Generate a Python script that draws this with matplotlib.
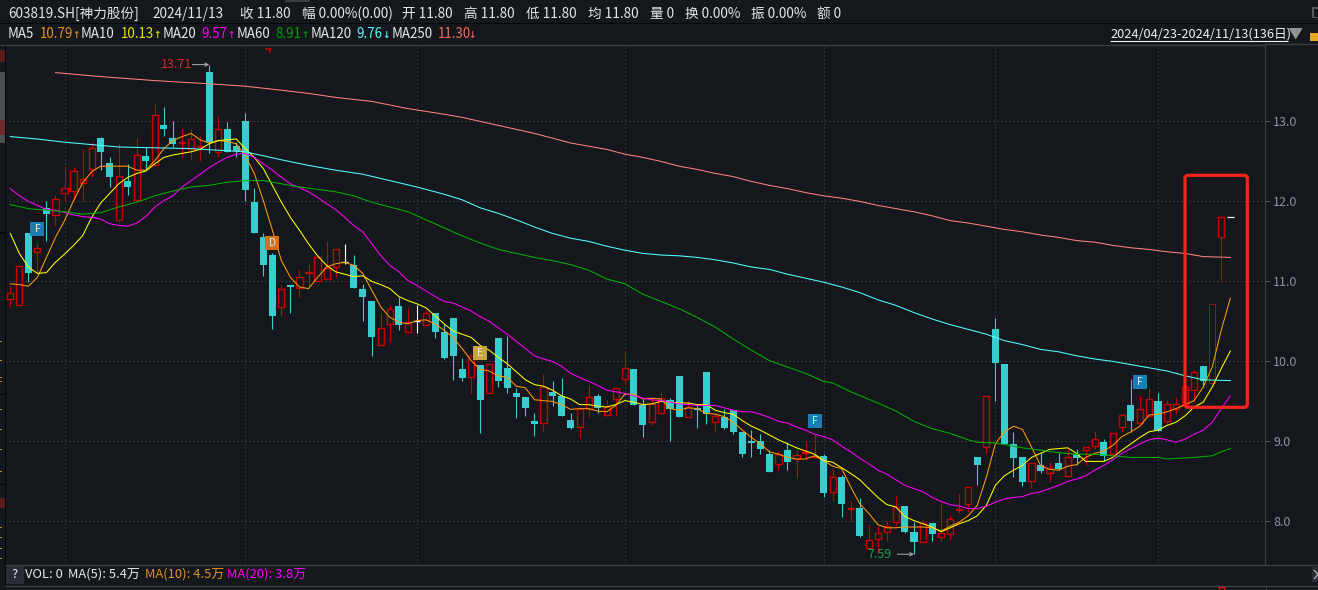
import matplotlib
matplotlib.use('Agg')
import matplotlib.pyplot as plt
from matplotlib.patches import Rectangle, FancyBboxPatch
from matplotlib.lines import Line2D
from matplotlib.transforms import IdentityTransform
import numpy as np

plt.rcParams['font.family'] = ['Noto Sans CJK SC', 'DejaVu Sans']

# candles, one row of values per trading day
opens = [10.78, 10.70, 11.61, 11.37, 11.92, 11.83, 12.11, 12.13, 12.23, 12.40,
         12.79, 12.48, 11.77, 12.25, 12.02, 12.57, 12.45, 12.96, 12.79, 12.73,
         12.66, 12.68, 13.62, 12.62, 12.91, 12.69, 13.01, 11.99, 11.56, 11.33,
         10.68, 10.94, 10.92, 11.11, 11.00, 11.03, 11.18, 11.24, 11.21, 10.91,
         10.76, 10.20, 10.47, 10.69, 10.37, 10.51, 10.45, 10.61, 10.37, 10.54,
         9.90, 9.80, 9.95, 9.60, 10.29, 9.92, 9.60, 9.56, 9.26, 9.23,
         9.62, 9.57, 9.27, 9.18, 9.40, 9.57, 9.33, 9.53, 9.78, 9.90,
         9.46, 9.24, 9.35, 9.52, 9.82, 9.30, 9.42, 9.87, 9.24, 9.30,
         9.39, 9.12, 9.00, 9.00, 8.84, 8.72, 8.89, 8.78, 8.85, 8.80,
         8.82, 8.37, 8.56, 8.16, 8.17, 7.67, 7.78, 7.87, 7.99, 8.19,
         7.87, 7.74, 7.98, 7.80, 7.84, 8.14, 8.22, 8.80, 8.93, 10.41,
         9.97, 8.97, 8.80, 8.50, 8.70, 8.61, 8.73, 8.57, 8.84, 8.89,
         8.94, 8.99, 8.84, 9.18, 9.45, 9.23, 9.32, 9.51, 9.26, 9.40,
         9.46, 9.64, 9.94, 9.73, 11.55, 11.80]
highs = [10.95, 11.19, 11.61, 11.48, 12.01, 12.08, 12.44, 12.43, 12.65, 12.74,
         12.80, 12.55, 12.73, 12.47, 12.79, 12.68, 13.22, 13.18, 13.01, 12.91,
         12.90, 12.82, 13.71, 13.07, 12.99, 12.74, 13.10, 12.17, 11.60, 11.35,
         10.96, 10.95, 11.16, 11.22, 11.31, 11.50, 11.40, 11.47, 11.33, 10.97,
         10.76, 10.61, 10.70, 10.81, 10.67, 10.70, 10.66, 10.61, 10.47, 10.54,
         10.04, 10.10, 9.95, 9.97, 10.29, 10.32, 9.67, 9.56, 9.36, 9.84,
         9.75, 9.79, 9.35, 9.43, 9.70, 9.59, 9.52, 9.67, 10.13, 9.90,
         9.53, 9.54, 9.62, 9.54, 9.82, 9.51, 9.47, 9.87, 9.35, 9.41,
         9.39, 9.12, 9.14, 9.09, 8.89, 8.88, 8.99, 8.89, 8.99, 9.09,
         8.84, 8.66, 8.58, 8.26, 8.29, 7.95, 7.95, 8.00, 8.32, 8.19,
         7.99, 8.02, 7.98, 8.24, 8.08, 8.36, 8.43, 8.80, 9.57, 10.54,
         9.97, 9.12, 8.80, 8.74, 8.85, 8.74, 8.86, 8.89, 8.90, 8.93,
         9.13, 9.03, 9.11, 9.34, 9.78, 9.57, 9.67, 9.60, 9.52, 9.55,
         9.68, 9.89, 9.94, 10.72, 11.80, 11.80]
lows = [10.68, 10.70, 10.99, 11.10, 11.51, 11.69, 12.00, 12.02, 12.01, 12.30,
        12.39, 12.18, 11.76, 12.08, 12.01, 12.39, 12.44, 12.82, 12.68, 12.55,
        12.52, 12.51, 12.60, 12.56, 12.62, 12.55, 12.00, 11.60, 11.07, 10.41,
        10.57, 10.60, 10.81, 10.93, 11.00, 11.03, 11.05, 11.22, 10.92, 10.51,
        10.07, 10.20, 10.25, 10.39, 10.37, 10.35, 10.45, 10.29, 10.03, 9.77,
        9.76, 9.59, 9.10, 9.60, 9.68, 9.60, 9.29, 9.32, 9.07, 9.12,
        9.44, 9.32, 9.15, 9.04, 9.31, 9.35, 9.32, 9.32, 9.70, 9.45,
        9.06, 9.20, 9.35, 9.00, 9.30, 9.30, 9.17, 9.22, 9.12, 9.16,
        9.09, 8.80, 8.80, 8.84, 8.62, 8.64, 8.64, 8.54, 8.78, 8.79,
        8.30, 8.25, 8.06, 8.00, 7.80, 7.67, 7.60, 7.76, 7.95, 7.85,
        7.59, 7.74, 7.75, 7.75, 7.77, 8.11, 8.12, 8.46, 8.85, 9.50,
        8.97, 8.55, 8.44, 8.42, 8.60, 8.49, 8.64, 8.57, 8.70, 8.69,
        8.90, 8.76, 8.82, 9.12, 9.12, 9.20, 9.31, 9.13, 9.20, 9.34,
        9.46, 9.49, 9.68, 9.73, 11.01, 11.80]
closes = [10.85, 11.19, 11.10, 11.42, 11.84, 12.03, 12.17, 12.38, 12.28, 12.67,
          12.62, 12.30, 12.32, 12.18, 12.58, 12.51, 13.08, 12.90, 12.72, 12.74,
          12.78, 12.69, 12.74, 12.90, 12.62, 12.63, 12.14, 11.60, 11.20, 10.57,
          10.91, 10.93, 11.05, 11.12, 11.30, 11.17, 11.40, 11.24, 10.92, 10.80,
          10.30, 10.42, 10.65, 10.45, 10.49, 10.51, 10.60, 10.37, 10.04, 10.07,
          9.79, 10.07, 9.52, 9.97, 9.75, 9.67, 9.56, 9.42, 9.22, 9.68,
          9.57, 9.32, 9.17, 9.41, 9.56, 9.42, 9.43, 9.67, 9.92, 9.46,
          9.20, 9.47, 9.54, 9.40, 9.30, 9.43, 9.39, 9.34, 9.32, 9.17,
          9.12, 8.84, 8.98, 8.90, 8.62, 8.84, 8.74, 8.83, 8.87, 8.82,
          8.36, 8.56, 8.22, 8.17, 7.82, 7.77, 7.86, 7.94, 8.18, 7.87,
          7.74, 7.98, 7.84, 7.85, 8.03, 8.16, 8.43, 8.71, 9.57, 9.98,
          8.97, 8.79, 8.49, 8.73, 8.63, 8.67, 8.65, 8.81, 8.79, 8.93,
          9.03, 8.82, 9.11, 9.33, 9.25, 9.41, 9.53, 9.13, 9.47, 9.47,
          9.68, 9.87, 9.75, 10.72, 11.80, 11.80]

# moving averages
ma5 = [10.97, 10.96, 10.94, 11.05, 11.30, 11.55, 11.76, 12.01, 12.23, 12.37,
       12.44, 12.44, 12.44, 12.44, 12.39, 12.39, 12.51, 12.66, 12.76, 12.81,
       12.85, 12.77, 12.73, 12.76, 12.75, 12.72, 12.57, 12.35, 12.01, 11.64,
       11.26, 11.05, 10.93, 10.91, 11.05, 11.18, 11.22, 11.24, 11.20, 11.10,
       10.89, 10.68, 10.55, 10.49, 10.47, 10.51, 10.52, 10.47, 10.39, 10.30,
       10.16, 10.01, 9.90, 9.88, 9.82, 9.80, 9.69, 9.67, 9.52, 9.51,
       9.50, 9.46, 9.40, 9.41, 9.41, 9.38, 9.37, 9.45, 9.59, 9.59,
       9.53, 9.54, 9.53, 9.41, 9.39, 9.42, 9.41, 9.35, 9.34, 9.31,
       9.24, 9.14, 9.05, 8.97, 8.87, 8.84, 8.80, 8.78, 8.78, 8.82,
       8.76, 8.69, 8.66, 8.43, 8.22, 8.10, 7.96, 7.92, 7.92, 7.93,
       7.93, 7.93, 7.92, 7.88, 7.94, 7.99, 8.07, 8.20, 8.55, 8.97,
       9.12, 9.19, 9.15, 8.93, 8.70, 8.65, 8.64, 8.69, 8.71, 8.80,
       8.85, 8.88, 8.95, 9.06, 9.12, 9.19, 9.33, 9.34, 9.37, 9.41,
       9.46, 9.51, 9.68, 9.93, 10.39, 10.79]
ma10 = [11.60, 11.35, 11.18, 11.10, 11.11, 11.24, 11.34, 11.45, 11.57, 11.80,
        11.98, 12.10, 12.22, 12.30, 12.35, 12.38, 12.47, 12.55, 12.58, 12.60,
        12.62, 12.65, 12.72, 12.76, 12.77, 12.78, 12.66, 12.55, 12.41, 12.20,
        11.99, 11.80, 11.64, 11.47, 11.32, 11.20, 11.12, 11.09, 11.06, 11.07,
        11.00, 10.96, 10.91, 10.81, 10.76, 10.72, 10.67, 10.57, 10.47, 10.38,
        10.34, 10.30, 10.20, 10.14, 10.05, 9.97, 9.87, 9.77, 9.71, 9.69,
        9.64, 9.57, 9.53, 9.46, 9.46, 9.44, 9.43, 9.46, 9.51, 9.49,
        9.46, 9.47, 9.50, 9.49, 9.48, 9.48, 9.46, 9.46, 9.39, 9.36,
        9.34, 9.26, 9.19, 9.14, 9.08, 9.02, 8.97, 8.92, 8.88, 8.84,
        8.76, 8.74, 8.67, 8.60, 8.52, 8.41, 8.30, 8.21, 8.18, 8.06,
        8.01, 7.97, 7.93, 7.87, 7.92, 7.97, 8.01, 8.07, 8.20, 8.45,
        8.57, 8.64, 8.70, 8.80, 8.85, 8.90, 8.91, 8.92, 8.85, 8.75,
        8.75, 8.75, 8.80, 8.89, 8.97, 9.05, 9.12, 9.14, 9.20, 9.24,
        9.32, 9.43, 9.49, 9.68, 9.91, 10.13]
ma20 = [12.16, 12.07, 12.00, 11.95, 11.90, 11.89, 11.86, 11.83, 11.81, 11.80,
        11.78, 11.72, 11.70, 11.69, 11.73, 11.81, 11.93, 12.01, 12.07, 12.18,
        12.26, 12.34, 12.42, 12.49, 12.55, 12.59, 12.60, 12.55, 12.47, 12.39,
        12.30, 12.22, 12.17, 12.12, 12.05, 11.97, 11.90, 11.80, 11.70, 11.62,
        11.47, 11.32, 11.20, 11.12, 11.01, 10.95, 10.88, 10.81, 10.75, 10.73,
        10.68, 10.63, 10.56, 10.50, 10.42, 10.34, 10.25, 10.16, 10.07, 10.03,
        10.00, 9.94, 9.85, 9.80, 9.75, 9.70, 9.64, 9.62, 9.60, 9.57,
        9.54, 9.52, 9.51, 9.49, 9.47, 9.46, 9.45, 9.45, 9.45, 9.42,
        9.39, 9.37, 9.37, 9.34, 9.30, 9.25, 9.23, 9.18, 9.14, 9.09,
        9.06, 9.02, 8.94, 8.87, 8.79, 8.72, 8.64, 8.59, 8.52, 8.45,
        8.41, 8.37, 8.30, 8.25, 8.21, 8.19, 8.16, 8.16, 8.19, 8.24,
        8.28, 8.30, 8.31, 8.35, 8.37, 8.41, 8.45, 8.50, 8.53, 8.57,
        8.64, 8.70, 8.77, 8.85, 8.91, 8.97, 9.02, 9.04, 9.02, 8.99,
        9.03, 9.09, 9.14, 9.24, 9.41, 9.57]
ma60_days = [0, 2, 4, 6, 8, 10, 12, 14, 16, 18, 20, 22, 24, 26, 28, 30, 32, 34, 36, 38,
             40, 42, 44, 46, 48, 50, 52, 54, 56, 58, 60, 62, 64, 66, 68, 70, 72, 74, 76, 78,
             80, 82, 84, 86, 88, 90, 91, 93, 96, 98, 100, 102, 104, 106, 107, 109, 110, 112, 114, 116,
             118, 120, 122, 124, 127, 128, 131, 132, 133, 134, 135]
ma60 = [11.96, 11.91, 11.89, 11.87, 11.84, 11.86, 11.93, 11.99, 12.07, 12.13,
        12.18, 12.20, 12.24, 12.26, 12.26, 12.22, 12.18, 12.15, 12.12, 12.07,
        11.99, 11.93, 11.87, 11.77, 11.67, 11.57, 11.48, 11.40, 11.35, 11.30,
        11.26, 11.21, 11.14, 11.03, 10.97, 10.84, 10.75, 10.66, 10.55, 10.43,
        10.28, 10.14, 10.01, 9.93, 9.85, 9.75, 9.73, 9.62, 9.48, 9.38,
        9.25, 9.16, 9.10, 9.02, 8.99, 8.98, 8.96, 8.92, 8.89, 8.86,
        8.84, 8.84, 8.82, 8.80, 8.80, 8.78, 8.80, 8.81, 8.82, 8.87, 8.91]
ma120_days = [0, 3, 6, 9, 12, 16, 20, 23, 26, 28, 30, 33, 36, 39, 42, 45, 48, 50, 52, 54,
              56, 58, 60, 62, 64, 66, 68, 70, 72, 74, 76, 78, 80, 82, 84, 86, 88, 90, 92, 94,
              96, 98, 100, 102, 104, 106, 108, 110, 112, 114, 116, 118, 120, 122, 124, 126, 128, 130, 132, 135]
ma120 = [12.81, 12.78, 12.74, 12.71, 12.68, 12.67, 12.66, 12.64, 12.62, 12.57,
         12.52, 12.45, 12.39, 12.34, 12.26, 12.18, 12.09, 12.02, 11.92, 11.85,
         11.77, 11.68, 11.60, 11.54, 11.50, 11.44, 11.39, 11.35, 11.33, 11.32,
         11.30, 11.27, 11.23, 11.18, 11.15, 11.09, 11.04, 10.99, 10.93, 10.86,
         10.77, 10.70, 10.61, 10.53, 10.46, 10.40, 10.34, 10.26, 10.21, 10.15,
         10.12, 10.07, 10.03, 10.00, 9.96, 9.92, 9.88, 9.82, 9.77, 9.76]
ma250_days = [5, 10, 16, 22, 26, 30, 33, 36, 40, 44, 48, 50, 52, 54, 56, 58, 60, 62, 64, 66,
              68, 70, 72, 74, 76, 78, 80, 82, 84, 86, 88, 90, 92, 94, 96, 98, 100, 102, 104, 106,
              108, 110, 112, 114, 116, 118, 120, 122, 124, 126, 128, 130, 132, 135]
ma250 = [13.61, 13.56, 13.51, 13.47, 13.44, 13.39, 13.35, 13.30, 13.25, 13.16,
         13.09, 13.05, 13.00, 12.95, 12.90, 12.85, 12.79, 12.73, 12.69, 12.65,
         12.59, 12.55, 12.50, 12.44, 12.40, 12.35, 12.31, 12.25, 12.20, 12.16,
         12.11, 12.07, 12.04, 12.00, 11.95, 11.91, 11.87, 11.82, 11.76, 11.73,
         11.69, 11.65, 11.62, 11.58, 11.55, 11.51, 11.49, 11.45, 11.42, 11.40,
         11.37, 11.35, 11.31, 11.30]

price_ticks = [8, 9, 10, 11, 12, 13]
month_days = [6, 26, 45, 68, 90, 109, 127]
signal_days = [3, 29, 52, 89, 125]
signal_prices = [11.65, 11.48, 10.11, 9.25, 9.74]
signal_letters = ['F', 'D', 'E', 'F', 'F']
signal_colors = ['#1a7db5', '#d96f14', '#c9a63c', '#1a7db5', '#1a7db5']
header_items = ['603819.SH[神力股份]', '2024/11/13', '收 11.80', '幅 0.00%(0.00)', '开 11.80',
                '高 11.80', '低 11.80', '均 11.80', '量 0', '换 0.00%', '振 0.00%', '额 0']
ma_names = ['MA5', 'MA10', 'MA20', 'MA60', 'MA120', 'MA250']
ma_readouts = ['10.79', '10.13', '9.57', '8.91', '9.76', '11.30']
ma_arrows = ['↑', '↑', '↑', '↑', '↓', '↓']

W, H = 1318, 590
BG = '#14171c'
UP = '#c80000'
DOWN = '#38cdce'
LINE = '#3a3d42'
GRID = '#50555b'
MA_COLORS = ['#ff9a00', '#ffff00', '#ff00ff', '#00b000', '#55ffff', '#ff8080']

fig = plt.figure(figsize=(W / 100, H / 100), dpi=100, facecolor=BG)
ax = fig.add_axes([5 / W, 26 / H, 1260 / W, 520 / H], facecolor=BG)


# helpers for the screen furniture, given in pixels from the top left
def box(x0, y0, x1, y1, color):
    fig.add_artist(Rectangle((x0, H - y1), x1 - x0, y1 - y0, transform=IdentityTransform(),
                             facecolor=color, edgecolor='none'))


def seg(x0, y0, x1, y1, color, lw=0.72):
    fig.add_artist(Line2D([x0, x1], [H - y0, H - y1], transform=IdentityTransform(),
                          color=color, lw=lw, solid_capstyle='butt'))


def label(x, y, s, color='#e4e6e8', size=9.8, **kw):
    fig.text(x / W, 1 - y / H, s, color=color, fontsize=size, va='center', **kw)


# candles
o = np.array(opens)
h = np.array(highs)
l = np.array(lows)
c = np.array(closes)
days = np.arange(len(o))
colors = np.where(c > o, UP, np.where(c < o, DOWN, '#ffffff'))

ax.vlines(days, l, h, colors=colors, lw=0.8, zorder=2, snap=True)
up = c > o
down = c < o
flat = c == o
ax.bar(days[down], np.maximum(o - c, 0.02)[down], bottom=c[down], width=0.78,
       color=DOWN, linewidth=0, zorder=2.2)
# the last two up days sit dimmer under the red frame
up_edges = [('#a81010' if d == 133 else UP) for d in days[up]]
up_widths = [(0.72 if d == 133 else 1.0) for d in days[up]]
ax.bar(days[up], (c - o)[up], bottom=o[up], width=0.68,
       facecolor=BG, edgecolor=up_edges, linewidth=up_widths, zorder=2.2)
ax.hlines(c[flat], days[flat] - 0.39, days[flat] + 0.39, colors='#ffffff', lw=0.9, zorder=2.3, snap=True)

# moving averages
ma_style = dict(lw=0.75, zorder=3)
ax.plot(days, ma5, color=MA_COLORS[0], **ma_style)
ax.plot(days, ma10, color=MA_COLORS[1], **ma_style)
ax.plot(days, ma20, color=MA_COLORS[2], **ma_style)
ax.plot(ma60_days, ma60, color=MA_COLORS[3], **ma_style)
ax.plot(ma120_days, ma120, color=MA_COLORS[4], **ma_style)
ax.plot(ma250_days, ma250, color=MA_COLORS[5], **ma_style)

# buy/sell flags
for d, p, t, col in zip(signal_days, signal_prices, signal_letters, signal_colors):
    ax.plot(d, p, marker='s', ms=10.1, mew=0, color=col, zorder=4)
    ax.text(d, p, t, color='#e8e8e8', fontsize=7.5, ha='center', va='center', zorder=5)

# high and low of the range
imax = int(np.argmax(h))
imin = int(np.argmin(l))
ax.annotate('', xy=(imax, h[imax]), xytext=(-12, 0), textcoords='offset points',
            arrowprops=dict(arrowstyle='->', color='#b0b0b0', lw=0.7, shrinkA=0, shrinkB=0, mutation_scale=6), zorder=5)
ax.annotate('%.2f' % h[imax], xy=(imax, h[imax]), xytext=(-12, 0), textcoords='offset points',
            color='#d42a2a', fontsize=9, ha='right', va='center', zorder=5)
ax.annotate('', xy=(imin, l[imin]), xytext=(-12, 0), textcoords='offset points',
            arrowprops=dict(arrowstyle='->', color='#b0b0b0', lw=0.7, shrinkA=0, shrinkB=0, mutation_scale=6), zorder=5)
ax.annotate('%.2f' % l[imin], xy=(imin, l[imin]), xytext=(-16.5, 0), textcoords='offset points',
            color='#1fa050', fontsize=9, ha='right', va='center', zorder=5)

# axes
ax.set_xlim(-0.586, 138.84)
ax.set_ylim(7.4675, 13.9675)
ax.set_xticks(month_days)
ax.set_xticklabels([])
ax.set_yticks(price_ticks)
ax.set_yticklabels(['%.1f' % p for p in price_ticks])
ax.yaxis.tick_right()
ax.tick_params(axis='x', length=0)
ax.tick_params(axis='y', length=3.6, width=0.72, color=GRID, labelcolor='#8c96a0', labelsize=9, pad=2.2)
ax.grid(True, color=GRID, lw=0.72, linestyle=(0, (1, 3)), zorder=1)
ax.set_axisbelow(True)
for name, sp in ax.spines.items():
    sp.set_visible(name == 'right')
    sp.set_color(LINE)
    sp.set_linewidth(0.9)

# the red frame drawn over the last days
fig.add_artist(FancyBboxPatch((1185, H - 407.3), 62.3, 232, transform=IdentityTransform(),
                              boxstyle='round,pad=0,rounding_size=3', facecolor='none',
                              edgecolor='#f8241a', linewidth=2.3))

# window furniture
box(0, 22.5, W, 24, '#050608')
seg(0, 44.5, 1265, 44.5, LINE, 1.0)
seg(1265, 44, W, 44, LINE, 1.0)
seg(5, 564.5, W, 564.5, LINE, 1.0)
seg(5, 585.5, W, 585.5, LINE, 1.0)
seg(1265.5, 585, 1265.5, 590, LINE, 0.9)
box(4.5, 44, 6, 590, '#050608')
box(285, 0, 310, 2, LINE)
box(0, 72, 4.5, 143, '#4f5055')
box(0, 120, 4.5, 135, '#6e2a2f')
box(0, 50, 4.5, 62, '#5a1a1e')
box(0, 232, 4.5, 234, '#050608')
box(0, 394, 4.5, 395, '#050608')
box(0, 484, 4.5, 485, '#050608')
box(0, 498, 4.5, 508, '#5a1a1e')
for y in [341, 360, 377, 381, 409, 429, 449, 471, 527, 537, 548, 558]:
    box(0, y, 2, y + 1, '#b58a3c')

# stray marks at the screen edge
seg(265, 48.5, 270.5, 48.5, UP, 1.2)
seg(269.5, 48, 269.5, 53, UP, 1.2)
seg(1218.5, 590, 1218.5, 586.5, '#e01010', 1.0)
seg(1218, 586.5, 1224.5, 586.5, '#e01010', 1.0)
seg(1224, 590, 1224, 586.5, '#e01010', 1.0)

# header row
header_x = [8, 152, 240, 302, 402, 464, 526, 588, 650, 685, 751, 817]
for x, s in zip(header_x, header_items):
    label(x, 14, s)

# moving average row
ma_name_x = [8, 81, 162.5, 236.5, 310.5, 391.5]
ma_value_x = [40, 121, 201, 275, 356, 438]
ma_arrow_x = [76, 157, 231, 305, 386, 472.5]
ma_text_colors = ['#e0921e', '#e6e600', '#ff00ff', '#00a000', '#55ffff', '#f06a5a']
for i in range(6):
    label(ma_name_x[i], 34, ma_names[i], size=9.6)
    label(ma_value_x[i], 34, ma_readouts[i], color=ma_text_colors[i], size=9.6)
    label(ma_arrow_x[i], 34, ma_arrows[i], color=ma_text_colors[i], size=9, ha='center', family='DejaVu Sans Mono')

# date range, top right
label(1110, 34, '2024/04/23-2024/11/13(136日)', color='#f0f0f0', size=9.2)
seg(1110, 40.5, 1288, 40.5, '#f0f0f0', 0.8)
fig.add_artist(plt.Polygon([(1288.7, H - 28), (1302.7, H - 28), (1295.7, H - 39.5)],
                           transform=IdentityTransform(), facecolor='#8f9296', edgecolor='none'))
box(1310, 33, W, 41, '#e8a521')
box(1312, 7, W, 18, '#55585d')
box(1313.5, 8.5, W, 16.5, BG)

# volume row
box(6, 566, 24, 584, '#2a2d33')
label(15, 575, '?', color='#e4e6e8', size=9.4, ha='center')
label(25, 574, 'VOL: 0', size=9.3)
label(68.5, 574, 'MA(5): 5.4万', size=9.3)
label(145, 574, 'MA(10): 4.5万', color='#e0921e', size=9.3)
label(227, 574, 'MA(20): 3.8万', color='#ff00ff', size=9.3)
box(1312, 567, W, 582, '#2a2d33')
seg(1314, 570, 1318, 574.5, '#c8c8c8', 0.8)
seg(1314, 579, 1318, 574.5, '#c8c8c8', 0.8)

fig.savefig('out.png', dpi=100, facecolor=BG)
